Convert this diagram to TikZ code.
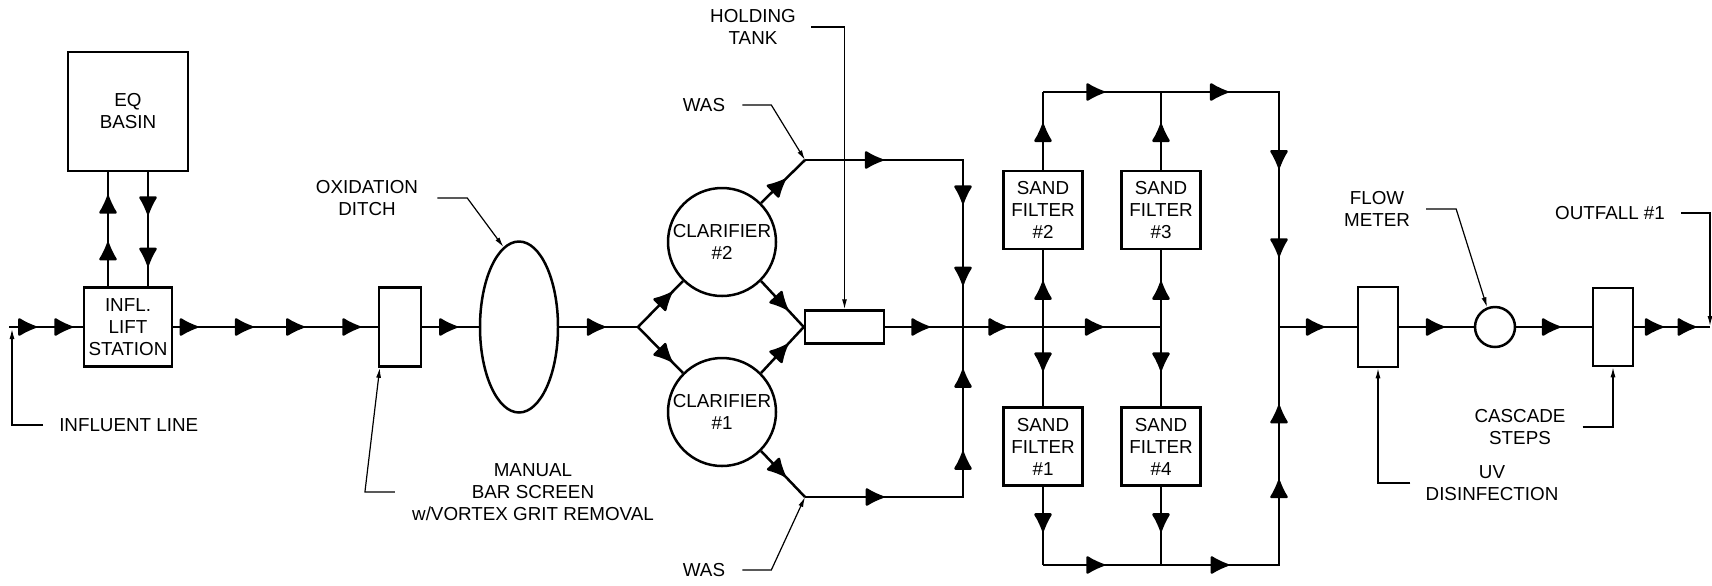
\documentclass[tikz,border=0pt]{standalone}
\usepackage{fontspec}
\setmainfont{Liberation Sans}
\usetikzlibrary{arrows.meta, decorations.markings, shapes.geometric}

\begin{document}
\begin{tikzpicture}[x=0.5pt, y=-0.5pt, line width=1.25pt,
		font=\fontsize{9.4}{11}\selectfont,
		unit/.style={draw, rectangle, inner sep=0pt, align=center},
		tank/.style={draw, circle, inner sep=0pt, minimum size=54pt, align=center},
		flow/.style={postaction={decorate, decoration={markings,
						mark=at position #1 with {\arrow{Latex[length=10.5pt,width=10pt,round]}}}}},
		flows/.style={flow/.list={#1}},
		lead/.style={line width=0.6pt, -{Latex[length=5pt,width=2.5pt]}},
		lbl/.style={inner sep=0pt, align=center}]
	\useasboundingbox (0,0) rectangle (1712,585);

	% process units
	\node[unit, minimum width=60pt, minimum height=59.5pt] (eq) at (128,111.5) {EQ\\BASIN};
	\node[unit, minimum width=44pt, minimum height=39.5pt] (lift) at (128,327) {INFL.\\LIFT\\STATION};
	\node[unit, minimum width=21pt, minimum height=39.5pt] (bar) at (400,327) {};
	\node[draw, ellipse, inner sep=0pt, minimum width=39pt, minimum height=85.5pt] (ditch) at (519,327) {};
	\node[tank] (cl2) at (722,242) {CLARIFIER\\\#2};
	\node[tank] (cl1) at (722,412) {CLARIFIER\\\#1};
	\node[unit, minimum width=39.5pt, minimum height=16.5pt] (hold) at (844.5,327) {};
	\foreach \n/\x/\y in {2/1043/210, 3/1161/210, 1/1043/446.5, 4/1161/446.5}
		\node[unit, minimum width=39.5pt, minimum height=39pt] (sf\n) at (\x,\y) {SAND\\FILTER\\\#\n};
	\node[unit, minimum width=20pt, minimum height=40pt] (uv) at (1378,327) {};
	\node[draw, circle, inner sep=0pt, minimum size=20pt] (fm) at (1495,327) {};
	\node[unit, minimum width=20pt, minimum height=39pt] (cas) at (1613,327) {};

	% junctions
	\coordinate (in) at (9,327);
	\coordinate (split) at (638,327);
	\coordinate (was1) at (805,160);
	\coordinate (was2) at (805,497);
	\coordinate (c1) at (963,160);
	\coordinate (c2) at (963,497);
	\coordinate (j1) at (963,327);
	\foreach \c/\x in {2/1043, 3/1161, 4/1279} {
			\coordinate (t\c) at (\x,92);
			\coordinate (j\c) at (\x,327);
			\coordinate (b\c) at (\x,565);
		}
	\coordinate (out) at (1710,327);

	% flow lines
	\draw[flows={0.37,0.86}] (in) -- (lift.west);
	\draw[flows={0.385,0.795}] ([xshift=-10pt]lift.north) -- ([xshift=-10pt]eq.south);
	\draw[flows={0.37,0.82}] ([xshift=10pt]eq.south) -- ([xshift=10pt]lift.north);
	\draw[flows={0.12,0.39,0.64,0.915}] (lift.east) -- (bar.west);
	\draw[flow=0.62] (bar.east) -- (ditch.west);
	\draw[flow=0.58] (ditch.east) -- (split);
	\draw[flow=0.75] (split) -- (cl2.south west);
	\draw[flow=0.75] (split) -- (cl1.north west);
	\draw[flow=0.62] (cl2.south east) -- (hold.west);
	\draw[flow=0.62] (cl1.north east) -- (hold.west);
	\draw[flow=0.55] (cl2.north east) -- (was1);
	\draw[flow=0.55] (cl1.south east) -- (was2);
	\draw[flows={0.24,0.62,0.87}] (was1) -- (c1) -- (j1);
	\draw[flows={0.24,0.62,0.87}] (was2) -- (c2) -- (j1);
	\draw[flows={0.16,0.44,0.79}] (hold.east) -- (j3);
	\foreach \c/\u/\d in {2/2/1, 3/3/4} {
			\draw[flow=0.59] (j\c) -- (sf\u.south);
			\draw[flow=0.59] (sf\u.north) -- (t\c);
			\draw[flow=0.55] (j\c) -- (sf\d.north);
			\draw[flow=0.57] (sf\d.south) -- (b\c);
		}
	\draw[flow=0.52] (t2) -- (t3);
	\draw[flows={0.19,0.55,0.8}] (t3) -- (t4) -- (j4);
	\draw[flow=0.52] (b2) -- (b3);
	\draw[flows={0.19,0.57,0.78}] (b3) -- (b4) -- (j4);
	\draw[flow=0.58] (j4) -- (uv.west);
	\draw[flow=0.6] (uv.east) -- (fm.west);
	\draw[flow=0.58] (fm.east) -- (cas.west);
	\draw[flows={0.38,0.81}] (cas.east) -- (out);

	% labels and leaders
	\node[lbl, anchor=west] (infllbl) at (58,425) {INFLUENT LINE};
	\coordinate (inlead) at (12,329);
	\draw[lead] ([xshift=-7.5pt]infllbl.west) -| (inlead);

	\node[lbl] (ditchlbl) at (367,198) {OXIDATION\\DITCH};
	\draw[lead] ([xshift=9pt]ditchlbl.east) -- ++(30,0) -- (ditch.101);

	\node[lbl] (barlbl) at (533,492) {MANUAL\\BAR SCREEN\\w/VORTEX GRIT REMOVAL};
	\draw[lead] ([xshift=-8pt]barlbl.west) -- ++(-30,0) -- ([xshift=1pt]bar.south west);

	\node[lbl] (holdlbl) at (753,27) {HOLDING\\TANK};
	\draw[lead] ([xshift=7pt]holdlbl.east) -| (hold.north);

	\node[lbl] (was1lbl) at (704,105) {WAS};
	\draw[lead] ([xshift=8pt]was1lbl.east) -- ++(29,0) -- (was1);
	\node[lbl] (was2lbl) at (704,570) {WAS};
	\draw[lead] ([xshift=8pt]was2lbl.east) -- ++(29,0) -- (was2);

	\node[lbl] (fmlbl) at (1377,209) {FLOW\\METER};
	\draw[lead] ([xshift=7.5pt]fmlbl.east) -- ++(30,0) -- (fm.112);

	\node[lbl] (outlbl) at (1610,213) {OUTFALL \#1};
	\coordinate (outlead) at (1710,326);
	\draw[lead] ([xshift=7.5pt]outlbl.east) -| (outlead);

	\node[lbl] (caslbl) at (1520,427) {CASCADE\\STEPS};
	\draw[lead] ([xshift=8pt]caslbl.east) -| (cas.south);

	\node[lbl] (uvlbl) at (1492,483) {UV\\DISINFECTION};
	\draw[lead] ([xshift=-7pt]uvlbl.west) -| (uv.south);
\end{tikzpicture}
\end{document}
